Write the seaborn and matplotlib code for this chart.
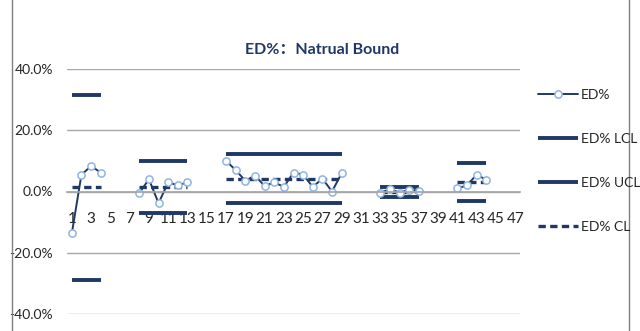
import numpy as np
import pandas as pd
import matplotlib
matplotlib.use("Agg")
import matplotlib.pyplot as plt
from matplotlib.patches import Rectangle
import seaborn as sns

nan = np.nan

# Sample index along the category axis
categories = list(range(1, 48))

# ED% observations (percent); gaps separate the sub-groups
ed = [-13.7, 5.5, 8.3, 6.2, nan, nan, nan,
      -0.5, 4.0, -3.8, 3.0, 2.0, 3.0, nan, nan, nan,
      10.0, 7.0, 3.5, 5.2, 1.8, 3.0, 1.5, 6.2, 5.5, 1.5, 4.2, 0.0, 6.0, nan, nan, nan,
      -0.5, 0.8, -0.4, 0.6, 0.3, nan, nan, nan,
      1.0, 2.0, 5.5, 3.8, nan, nan, nan]

# Control limits per sub-group (percent)
lcl = [-28.8] * 4 + [nan] * 3 + [-7.0] * 6 + [nan] * 3 + [-3.6] * 13 + [nan] * 3 + \
      [-1.8] * 5 + [nan] * 3 + [-3.2] * 4 + [nan] * 3
ucl = [31.6] * 4 + [nan] * 3 + [9.8] * 6 + [nan] * 3 + [12.2] * 13 + [nan] * 3 + \
      [1.6] * 5 + [nan] * 3 + [9.4] * 4 + [nan] * 3
cl = [1.4] * 4 + [nan] * 3 + [1.6] * 6 + [nan] * 3 + [4.2] * 13 + [nan] * 3 + \
     [0.0] * 5 + [nan] * 3 + [3.0] * 4 + [nan] * 3

y_ticks = [-40, -20, 0, 20, 40]
x_ticks = list(range(1, 48, 2))
title = "ED%：Natrual Bound"

df = pd.DataFrame({"n": categories, "ED%": ed, "ED% LCL": lcl,
                   "ED% UCL": ucl, "ED% CL": cl})
# Segment id: consecutive non-missing runs form one sub-group
df["seg"] = df["ED%"].isna().cumsum()

navy = "#1F3864"
marker_edge = "#8FB4E0"
grid_gray = "#A6A6A6"
text_col = "#262626"
font = ["Lato", "Noto Sans CJK SC", "DejaVu Sans"]

sns.set_theme(style="white")
plt.rcParams["font.family"] = font

fig = plt.figure(figsize=(6.4, 3.31), dpi=100)
fig.patch.set_facecolor("white")
ax = fig.add_axes([67 / 640, 17 / 331, 453 / 640, 245 / 331])

styles = {
    "ED% LCL": dict(color=navy, lw=2.8, ls="-"),
    "ED% UCL": dict(color=navy, lw=2.8, ls="-"),
    "ED% CL": dict(color=navy, lw=2.4, ls=(0, (2.2, 1.3))),
}

handles = {}
for seg, part in df.dropna(subset=["ED%"]).groupby("seg"):
    for col in ["ED% LCL", "ED% UCL", "ED% CL"]:
        sns.lineplot(data=part, x="n", y=col, ax=ax, legend=False,
                     solid_capstyle="butt", dash_capstyle="butt", **styles[col])
        handles[col] = ax.lines[-1]
    sns.lineplot(data=part, x="n", y="ED%", ax=ax, legend=False, color=navy,
                 lw=1.4, marker="o", markersize=5.2, markerfacecolor="white",
                 markeredgecolor=marker_edge, markeredgewidth=1.1)
    handles["ED%"] = ax.lines[-1]

ax.set_xlim(0.5, 47.5)
ax.set_ylim(-40, 40)
ax.set_yticks(y_ticks)
ax.set_yticklabels([f"{v:.1f}%" for v in y_ticks], fontsize=10, color=text_col)
ax.set_xticks(x_ticks)
ax.set_xticklabels([str(v) for v in x_ticks], fontsize=10, color=text_col)
ax.tick_params(axis="both", length=0)
ax.tick_params(axis="x", pad=15)
ax.tick_params(axis="y", pad=10)
ax.grid(axis="y", color=grid_gray, lw=1.0)
ax.set_axisbelow(True)
for s in ["left", "right", "top"]:
    ax.spines[s].set_visible(False)
ax.spines["bottom"].set_position(("data", 0))
ax.spines["bottom"].set_color(grid_gray)
ax.set_xlabel("")
ax.set_ylabel("")

fig.text(322 / 640, 1 - 50 / 331, title, ha="center", va="center",
         fontsize=11.5, color=navy, fontweight="bold")

order = ["ED%", "ED% LCL", "ED% UCL", "ED% CL"]
leg = fig.legend([handles[k] for k in order], order, loc="upper left",
                 bbox_to_anchor=(538 / 640, 1 - 89 / 331), frameon=False,
                 fontsize=10, handlelength=2.9, handletextpad=0.2,
                 labelspacing=2.3, borderpad=0, borderaxespad=0)
for t in leg.get_texts():
    t.set_color(text_col)

# Chart-area frame
fig.patches.append(Rectangle((12 / 640, -0.05), (629 - 12) / 640, 1.2,
                             transform=fig.transFigure, fill=False,
                             edgecolor="#7F7F7F", lw=1.0))

fig.savefig("out.png", dpi=100)
